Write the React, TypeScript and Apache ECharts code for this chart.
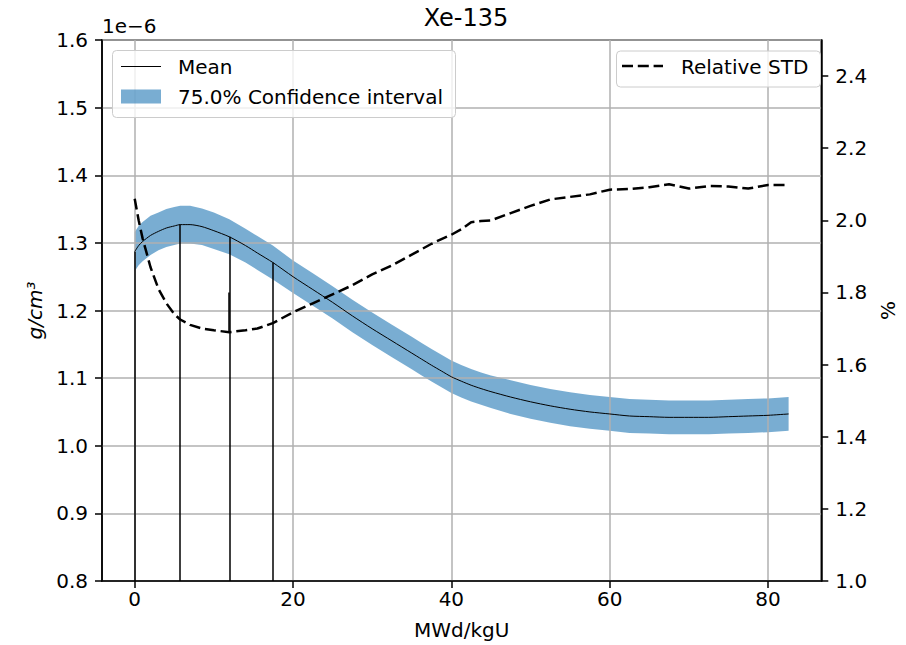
import React, { useEffect, useRef } from "react";
import * as echarts from "echarts";

// Burnup steps (MWd/kgU)
const burnup = [
  0, 0.5, 1, 2, 3, 4, 5, 5.75, 7, 8.5, 10, 11.95, 14, 15.5, 17.45, 20, 22.5, 25,
  27.5, 30, 32.5, 35, 36.25, 37.5, 38.75, 40, 41.25, 42.5, 43.75, 45, 47.5, 50,
  52.5, 55, 57.5, 60, 62.5, 65, 67.5, 70, 72.5, 75, 77.5, 80, 82.6,
];
// Mean concentration (x1e-6 g/cm3)
const meanValues = [
  1.287, 1.296, 1.302, 1.311, 1.317, 1.322, 1.325, 1.327, 1.327, 1.324, 1.318,
  1.309, 1.296, 1.285, 1.271, 1.25, 1.231, 1.212, 1.192, 1.173, 1.155, 1.137,
  1.128, 1.119, 1.1105, 1.102, 1.0955, 1.0895, 1.0845, 1.08, 1.072, 1.065,
  1.059, 1.054, 1.05, 1.047, 1.044, 1.043, 1.042, 1.042, 1.042, 1.043, 1.044,
  1.045, 1.047,
];
// 75% confidence interval bounds
const lowerValues = [
  1.258, 1.267, 1.273, 1.282, 1.289, 1.294, 1.297, 1.299, 1.299, 1.297, 1.291,
  1.283, 1.271, 1.26, 1.246, 1.226, 1.207, 1.188, 1.168, 1.149, 1.131, 1.113,
  1.104, 1.095, 1.0865, 1.078, 1.0715, 1.0655, 1.0605, 1.056, 1.047, 1.04,
  1.034, 1.029, 1.025, 1.022, 1.019, 1.018, 1.017, 1.017, 1.017, 1.018, 1.019,
  1.02, 1.022,
];
const upperValues = [
  1.316, 1.325, 1.331, 1.34, 1.345, 1.35, 1.353, 1.355, 1.355, 1.351, 1.345,
  1.335, 1.321, 1.31, 1.296, 1.274, 1.255, 1.236, 1.216, 1.197, 1.179, 1.161,
  1.152, 1.143, 1.1345, 1.126, 1.1195, 1.1135, 1.1085, 1.104, 1.097, 1.09,
  1.084, 1.079, 1.075, 1.072, 1.069, 1.068, 1.067, 1.067, 1.067, 1.068, 1.069,
  1.07, 1.072,
];
// Relative standard deviation (%)
const relStd = [
  2.06, 2.0, 1.95, 1.87, 1.81, 1.77, 1.74, 1.725, 1.71, 1.7, 1.695, 1.69, 1.695,
  1.7, 1.715, 1.745, 1.77, 1.795, 1.82, 1.85, 1.875, 1.905, 1.92, 1.935, 1.948,
  1.96, 1.975, 1.995, 1.998, 2.0, 2.02, 2.04, 2.058, 2.065, 2.072, 2.085, 2.087,
  2.092, 2.1, 2.088, 2.095, 2.094, 2.088, 2.098, 2.098,
];
// Vertical step markers
const stepBurnups = [0, 5.75, 11.95, 17.45];
const stepMeans = [1.287, 1.327, 1.309, 1.271];
const stdMarkBurnup = [11.85];
const stdMarkRange = [1.69, 1.8];

const xTicks = [0, 20, 40, 60, 80];
const rightTicks = [1.0, 1.2, 1.4, 1.6, 1.8, 2.0, 2.2, 2.4];

const FONT = "DejaVu Sans";
const BAND_COLOR = "rgba(31,119,180,0.6)";

export default function App() {
  const ref = useRef<HTMLDivElement>(null);

  useEffect(() => {
    document.body.style.margin = "0";
    const chart = echarts.init(ref.current!, undefined, { renderer: "svg" });
    const axisLineStyle = { color: "#000", width: 1.5 };
    const labelStyle = { fontSize: 20, color: "#000", fontFamily: FONT };

    const bandData = burnup.map((x, i) => [x, lowerValues[i], upperValues[i]]);

    const option: any = {
      animation: false,
      textStyle: { fontFamily: FONT },
      grid: {
        left: 102,
        right: 76,
        top: 40,
        bottom: 62,
        show: true,
        z: 5,
        borderColor: "#000",
        borderWidth: 1.5,
        backgroundColor: "transparent",
      },
      xAxis: {
        type: "value",
        z: 5,
        min: -4.13,
        max: 86.73,
        name: "MWd/kgU",
        nameLocation: "middle",
        nameGap: 39,
        nameTextStyle: labelStyle,
        axisLine: { show: true, onZero: false, lineStyle: axisLineStyle },
        axisTick: {
          show: true,
          customValues: xTicks,
          length: 7,
          lineStyle: axisLineStyle,
        },
        axisLabel: { ...labelStyle, customValues: xTicks, margin: 8 },
        splitLine: { show: true, lineStyle: { color: "#b0b0b0", width: 1.5 } },
      },
      yAxis: [
        {
          type: "value",
          z: 5,
          min: 0.8,
          max: 1.6,
          interval: 0.1,
          name: "g/cm³",
          nameLocation: "middle",
          nameRotate: 90,
          nameGap: 57,
          nameTextStyle: { ...labelStyle, fontStyle: "italic" },
          axisLine: { show: true, onZero: false, lineStyle: axisLineStyle },
          axisTick: { show: true, length: 7, lineStyle: axisLineStyle },
          axisLabel: {
            ...labelStyle,
            margin: 14,
            formatter: (v: number) => v.toFixed(1),
          },
          splitLine: { show: true, lineStyle: { color: "#b0b0b0", width: 1.5 } },
        },
        {
          type: "value",
          z: 5,
          min: 1.0,
          max: 2.5,
          interval: 0.2,
          position: "right",
          name: "%",
          nameLocation: "middle",
          nameRotate: 90,
          nameGap: 51,
          nameTextStyle: labelStyle,
          axisLine: { show: true, onZero: false, lineStyle: axisLineStyle },
          axisTick: {
            show: true,
            customValues: rightTicks,
            length: 7,
            lineStyle: axisLineStyle,
          },
          axisLabel: {
            ...labelStyle,
            customValues: rightTicks,
            margin: 14,
            formatter: (v: number) => v.toFixed(1),
          },
          splitLine: { show: false },
        },
      ],
      series: [
        {
          type: "custom",
          name: "75.0% Confidence interval",
          silent: true,
          z: 1,
          clip: true,
          data: bandData,
          encode: { x: 0, y: [1, 2] },
          renderItem: (params: any, api: any) => {
            if (params.dataIndex !== 0) return null;
            const pts: number[][] = [];
            for (let i = 0; i < bandData.length; i++) {
              pts.push(api.coord([bandData[i][0], bandData[i][2]]));
            }
            for (let i = bandData.length - 1; i >= 0; i--) {
              pts.push(api.coord([bandData[i][0], bandData[i][1]]));
            }
            return {
              type: "polygon",
              z2: 0,
              shape: { points: pts },
              style: { fill: BAND_COLOR, stroke: "none" },
            };
          },
        },
        {
          type: "line",
          name: "Mean",
          z: 8,
          symbol: "none",
          silent: true,
          smooth: 0.25,
          data: burnup.map((x, i) => [x, meanValues[i]]),
          lineStyle: { color: "#000", width: 1 },
          markLine: {
            silent: true,
            symbol: ["none", "none"],
            label: { show: false },
            lineStyle: { color: "#000", width: 1.5, type: "solid" },
            data: stepBurnups.map((x, i) => [
              { coord: [x, 0.8] },
              { coord: [x, stepMeans[i]] },
            ]),
          },
        },
        {
          type: "line",
          name: "Relative STD",
          z: 8,
          yAxisIndex: 1,
          symbol: "none",
          silent: true,
          data: burnup.map((x, i) => [x, relStd[i]]),
          lineStyle: { color: "#000", width: 2.5, type: [11, 4.8] },
          markLine: {
            silent: true,
            symbol: ["none", "none"],
            label: { show: false },
            lineStyle: { color: "#000", width: 1.5, type: "solid" },
            data: stdMarkBurnup.map((x) => [
              { coord: [x, stdMarkRange[0]] },
              { coord: [x, stdMarkRange[1]] },
            ]),
          },
        },
      ],
      graphic: [
        {
          type: "text",
          x: 466,
          y: 17.5,
          style: {
            text: "Xe-135",
            fontSize: 24,
            fontFamily: FONT,
            fill: "#000",
            align: "center",
            verticalAlign: "middle",
          },
        },
        {
          type: "text",
          x: 102,
          y: 26,
          style: {
            text: "1e\u22126",
            fontSize: 20,
            fontFamily: FONT,
            fill: "#000",
            align: "left",
            verticalAlign: "middle",
          },
        },
        // Left legend
        {
          type: "rect",
          z: 100,
          shape: { x: 112.5, y: 50.5, width: 343, height: 67, r: 4 },
          style: { fill: "rgba(255,255,255,0.8)", stroke: "#cccccc", lineWidth: 1 },
        },
        {
          type: "line",
          z: 101,
          shape: { x1: 121, y1: 66.5, x2: 161, y2: 66.5 },
          style: { stroke: "#000", lineWidth: 1 },
        },
        {
          type: "text",
          z: 101,
          x: 178,
          y: 66.5,
          style: {
            text: "Mean",
            fontSize: 20,
            fontFamily: FONT,
            fill: "#000",
            align: "left",
            verticalAlign: "middle",
          },
        },
        {
          type: "rect",
          z: 101,
          shape: { x: 121, y: 89.5, width: 40, height: 14 },
          style: { fill: BAND_COLOR },
        },
        {
          type: "text",
          z: 101,
          x: 178,
          y: 96.5,
          style: {
            text: "75.0% Confidence interval",
            fontSize: 20,
            fontFamily: FONT,
            fill: "#000",
            align: "left",
            verticalAlign: "middle",
          },
        },
        // Right legend
        {
          type: "rect",
          z: 100,
          shape: { x: 616.5, y: 51, width: 204, height: 36, r: 4 },
          style: { fill: "rgba(255,255,255,0.8)", stroke: "#cccccc", lineWidth: 1 },
        },
        {
          type: "line",
          z: 101,
          shape: { x1: 622, y1: 66, x2: 663, y2: 66 },
          style: { stroke: "#000", lineWidth: 2.5, lineDash: [11, 4.8] },
        },
        {
          type: "text",
          z: 101,
          x: 681,
          y: 67,
          style: {
            text: "Relative STD",
            fontSize: 20,
            fontFamily: FONT,
            fill: "#000",
            align: "left",
            verticalAlign: "middle",
          },
        },
      ],
    };

    chart.setOption(option);
    return () => chart.dispose();
  }, []);

  return <div ref={ref} style={{ width: 906, height: 645 }} />;
}
